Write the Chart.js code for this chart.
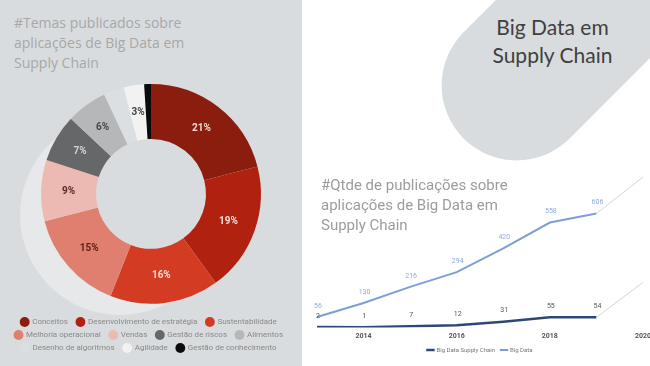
<!DOCTYPE html>
<html>
<head>
<meta charset="utf-8">
<script src="https://cdn.jsdelivr.net/npm/chart.js@4.4.0/dist/chart.umd.min.js"></script>
<style>
    html, body { margin: 0; padding: 0; width: 650px; height: 366px; overflow: hidden; background: #fff; font-family: Roboto, sans-serif; }
    #left { position: absolute; left: 0; top: 0; width: 302px; height: 366px; background: #d9dcde; overflow: hidden; }
    #halo { position: absolute; left: 20px; top: 115px; width: 200px; height: 200px; border-radius: 50%; background: #e6e8e9; }
    #leftTitle { position: absolute; left: 14px; top: 13px; font: 14px 'Open Sans', sans-serif; line-height: 20px; color: #a6a8aa; }
    #pieBox { position: absolute; left: 0; top: 80px; width: 302px; height: 286px; }
    #blob { position: absolute; left: 405px; top: -78px; width: 400px; height: 150px; border-radius: 75px; background: #d9dcde; transform: rotate(-45deg); }
    #blobText { position: absolute; left: 470px; top: 13px; width: 165px; text-align: center; font: 21px Lato, sans-serif; line-height: 28px; color: #404040; }
    #lineTitle { position: absolute; left: 321px; top: 175px; font: 15px Roboto, sans-serif; line-height: 20px; color: #9c9c9c; }
    #lineBox { position: absolute; left: 290px; top: 170px; width: 370px; height: 196px; }
</style>
</head>
<body>
<div id="left">
    <div id="halo"></div>
    <div id="leftTitle">#Temas publicados sobre<br>aplicações de Big Data em<br>Supply Chain</div>
    <div id="pieBox"><canvas id="temasChart"></canvas></div>
</div>
<div id="blob"></div>
<div id="blobText">Big Data em<br>Supply Chain</div>
<div id="lineBox"><canvas id="publicacoesChart"></canvas></div>
<div id="lineTitle">#Qtde de publicações sobre<br>aplicações de Big Data em<br>Supply Chain</div>

<script>
// temas (doughnut)
const temas = ['Conceitos', 'Desenvolvimento de estratégia', 'Sustentabilidade', 'Melhoria operacional',
    'Vendas', 'Gestão de riscos', 'Alimentos', 'Desenho de algoritmos', 'Agilidade', 'Gestão de conhecimento'];
const temasPct = [21, 19, 16, 15, 9, 7, 6, 3, 3, 1];

// publicações por ano (line)
const anos = ['2013', '2014', '2015', '2016', '2017', '2018', '2019', '2020'];
const bigDataSupplyChain = [2, 1, 7, 12, 31, 55, 54, 240];
const bigData = [56, 130, 216, 294, 420, 558, 606, 800];

const temasColors = ['#8a1d0e', '#b0210f', '#d33c23', '#e07f6f', '#ecb9b3', '#666768',
    '#b6b7b8', '#dcdfe1', '#f2f2f2', '#0b0b0b'];
const pctTextColors = ['#f3d6cf', '#f7e3de', '#f6ddd6', '#5a2219', '#5a2a25', '#d4d4d4',
    '#444', null, '#444', null];

// the hole keeps the panel colour even over the light halo
const holeFill = {
    id: 'holeFill',
    beforeDatasetsDraw(chart) {
        const arc = chart.getDatasetMeta(0).data[0];
        if (!arc) return;
        const ctx = chart.ctx;
        ctx.save();
        ctx.fillStyle = '#d9dcde';
        ctx.beginPath();
        ctx.arc(arc.x, arc.y, arc.innerRadius + 1, 0, Math.PI * 2);
        ctx.fill();
        ctx.restore();
    }
};

const pctLabels = {
    id: 'pctLabels',
    afterDatasetsDraw(chart) {
        const ctx = chart.ctx;
        const meta = chart.getDatasetMeta(0);
        ctx.save();
        ctx.font = 'bold 10px Roboto, sans-serif';
        ctx.textAlign = 'center';
        ctx.textBaseline = 'middle';
        meta.data.forEach((arc, i) => {
            if (!pctTextColors[i]) return;
            const p = arc.tooltipPosition();
            ctx.fillStyle = pctTextColors[i];
            ctx.fillText(temasPct[i] + '%', p.x, p.y);
        });
        ctx.restore();
    }
};

new Chart(document.getElementById('temasChart'), {
    type: 'doughnut',
    data: {
        labels: temas,
        datasets: [{
            data: temasPct,
            backgroundColor: temasColors,
            borderWidth: 0
        }]
    },
    options: {
        responsive: true,
        maintainAspectRatio: false,
        animation: false,
        cutout: '50%',
        layout: { padding: { top: 4, bottom: 4 } },
        plugins: {
            tooltip: { enabled: false },
            legend: {
                position: 'bottom',
                title: { display: true, text: '', font: { size: 1 }, padding: { top: 0, bottom: 8 } },
                labels: {
                    usePointStyle: true,
                    pointStyle: 'circle',
                    boxWidth: 7,
                    boxHeight: 7,
                    padding: 5,
                    color: '#888',
                    font: { family: 'Roboto', size: 8 },
                    generateLabels(chart) {
                        const items = Chart.controllers.doughnut.overrides.plugins.legend.labels.generateLabels(chart);
                        items.forEach(it => { it.text = it.text + '  '; it.lineWidth = 0; });
                        return items;
                    }
                }
            }
        }
    },
    plugins: [holeFill, pctLabels]
});

// line chart
const valueLabels = {
    id: 'valueLabels',
    afterDatasetsDraw(chart) {
        const ctx = chart.ctx;
        ctx.save();
        ctx.font = '7px Roboto, sans-serif';
        ctx.textAlign = 'center';
        ctx.textBaseline = 'middle';
        chart.data.datasets.forEach((ds, i) => {
            const meta = chart.getDatasetMeta(i);
            ctx.fillStyle = i === 0 ? '#555' : '#8eaadb';
            meta.data.forEach((pt, j) => {
                if (j > 6) return;
                ctx.fillText(ds.data[j], pt.x + 1, pt.y - 11);
            });
        });
        ctx.restore();
    }
};

const fade = c => (c.p1DataIndex === 7 ? '#d6d6d6' : undefined);
const fadeWidth = c => (c.p1DataIndex === 7 ? 1 : undefined);

new Chart(document.getElementById('publicacoesChart'), {
    type: 'line',
    data: {
        labels: anos,
        datasets: [{
            label: 'Big Data Supply Chain',
            data: bigDataSupplyChain,
            borderColor: '#2e4876',
            backgroundColor: '#2e4876',
            borderWidth: 2.5,
            pointRadius: 0,
            segment: { borderColor: fade, borderWidth: fadeWidth }
        }, {
            label: 'Big Data',
            data: bigData,
            borderColor: '#7d9fd6',
            backgroundColor: '#7d9fd6',
            borderWidth: 2,
            pointRadius: 0,
            segment: { borderColor: fade, borderWidth: fadeWidth }
        }]
    },
    options: {
        responsive: true,
        maintainAspectRatio: false,
        animation: false,
        layout: { padding: { left: 27, right: 17, top: 7, bottom: 3 } },
        scales: {
            x: {
                grid: { display: false, drawTicks: false },
                border: { display: false },
                afterFit(scale) { scale.height = 13.5; },
                ticks: {
                    autoSkip: false,
                    maxRotation: 0,
                    padding: 5,
                    color: '#555',
                    font: { family: 'Roboto', size: 7, weight: 'bold' },
                    callback(v, i) { return i % 2 ? this.getLabelForValue(v) : ''; }
                }
            },
            y: { display: false, min: 0, max: 800 }
        },
        plugins: {
            tooltip: { enabled: false },
            legend: {
                position: 'bottom',
                labels: {
                    usePointStyle: true,
                    pointStyle: 'line',
                    padding: 6,
                    color: '#777',
                    font: { family: 'Roboto', size: 6 }
                }
            }
        }
    },
    plugins: [valueLabels]
});
</script>
</body>
</html>
